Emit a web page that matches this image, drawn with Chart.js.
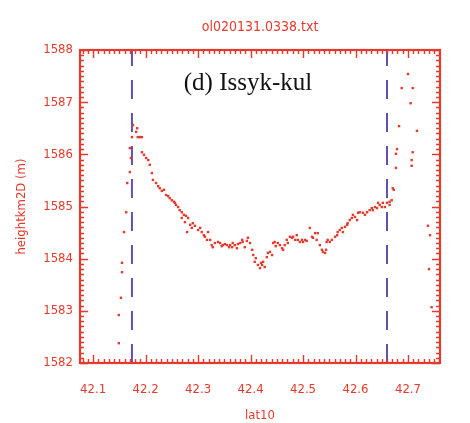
<!DOCTYPE html>
<html>
<head>
<meta charset="utf-8">
<script src="https://cdn.jsdelivr.net/npm/chart.js@4/dist/chart.umd.min.js"></script>
<style>
  html, body { margin: 0; padding: 0; background: #ffffff; }
  canvas { display: block; }
</style>
</head>
<body>
<canvas id="c" width="470" height="423"></canvas>
<script>
// Latitude (lat10) of each sounding and the retrieved surface height (m)
const latitudes = [
  42.149, 42.149, 42.153, 42.155, 42.155, 42.159, 42.163, 42.165, 42.170, 42.170,
  42.172, 42.174, 42.176, 42.182, 42.184, 42.185, 42.189, 42.193, 42.193, 42.197,
  42.201, 42.205, 42.208, 42.212, 42.214, 42.220, 42.224, 42.227, 42.231, 42.235,
  42.239, 42.243, 42.246, 42.250, 42.254, 42.256, 42.258, 42.262, 42.265, 42.269,
  42.269, 42.273, 42.275, 42.277, 42.279, 42.281, 42.285, 42.288, 42.290, 42.294,
  42.300, 42.304, 42.307, 42.311, 42.313, 42.317, 42.319, 42.323, 42.326, 42.328,
  42.332, 42.338, 42.342, 42.345, 42.347, 42.351, 42.355, 42.359, 42.361, 42.365,
  42.366, 42.370, 42.374, 42.376, 42.380, 42.384, 42.385, 42.389, 42.393, 42.395,
  42.399, 42.403, 42.405, 42.408, 42.410, 42.414, 42.418, 42.420, 42.422, 42.424,
  42.427, 42.431, 42.433, 42.437, 42.441, 42.443, 42.446, 42.448, 42.452, 42.456,
  42.460, 42.462, 42.465, 42.469, 42.471, 42.475, 42.479, 42.481, 42.485, 42.488,
  42.490, 42.494, 42.498, 42.500, 42.504, 42.507, 42.513, 42.517, 42.519, 42.523,
  42.526, 42.528, 42.532, 42.536, 42.538, 42.542, 42.544, 42.545, 42.547, 42.551,
  42.555, 42.561, 42.565, 42.566, 42.570, 42.574, 42.576, 42.580, 42.584, 42.585,
  42.589, 42.593, 42.595, 42.599, 42.603, 42.605, 42.608, 42.614, 42.618, 42.622,
  42.627, 42.631, 42.633, 42.637, 42.641, 42.643, 42.646, 42.650, 42.652, 42.656,
  42.660, 42.665, 42.665, 42.669, 42.671, 42.673, 42.677, 42.677, 42.679, 42.683,
  42.688, 42.700, 42.705, 42.709, 42.709, 42.707, 42.707, 42.717, 42.738, 42.742,
  42.740, 42.745
];
const heights = [
  1582.38, 1582.92, 1583.25, 1583.74, 1583.92, 1584.51, 1584.89, 1585.45, 1585.66, 1586.12,
  1585.93, 1586.33, 1586.56, 1586.43, 1586.50, 1586.33, 1586.33, 1586.33, 1586.04, 1585.99,
  1585.93, 1585.89, 1585.80, 1585.64, 1585.51, 1585.45, 1585.39, 1585.35, 1585.30, 1585.32,
  1585.22, 1585.20, 1585.16, 1585.12, 1585.09, 1585.07, 1585.03, 1584.99, 1584.93, 1584.89,
  1584.78, 1584.84, 1584.70, 1584.82, 1584.51, 1584.78, 1584.65, 1584.59, 1584.68, 1584.63,
  1584.55, 1584.59, 1584.51, 1584.45, 1584.42, 1584.36, 1584.51, 1584.36, 1584.26, 1584.22,
  1584.30, 1584.32, 1584.30, 1584.24, 1584.26, 1584.28, 1584.26, 1584.22, 1584.26, 1584.22,
  1584.30, 1584.26, 1584.20, 1584.28, 1584.30, 1584.36, 1584.32, 1584.22, 1584.34, 1584.40,
  1584.30, 1584.17, 1584.07, 1583.94, 1584.01, 1583.88, 1583.82, 1583.92, 1583.88, 1583.94,
  1583.84, 1584.03, 1584.11, 1584.13, 1584.07, 1584.30, 1584.32, 1584.24, 1584.30, 1584.26,
  1584.20, 1584.17, 1584.26, 1584.36, 1584.30, 1584.42, 1584.40, 1584.42, 1584.36, 1584.45,
  1584.36, 1584.32, 1584.36, 1584.32, 1584.36, 1584.34, 1584.59, 1584.42, 1584.40, 1584.49,
  1584.36, 1584.49, 1584.26, 1584.17, 1584.13, 1584.11, 1584.17, 1584.32, 1584.36, 1584.32,
  1584.36, 1584.42, 1584.45, 1584.51, 1584.55, 1584.59, 1584.51, 1584.61, 1584.65, 1584.68,
  1584.74, 1584.78, 1584.84, 1584.80, 1584.74, 1584.88, 1584.89, 1584.88, 1584.84, 1584.89,
  1584.93, 1584.97, 1584.93, 1584.99, 1584.97, 1585.07, 1585.03, 1584.99, 1585.07, 1584.99,
  1585.07, 1585.09, 1585.03, 1585.12, 1585.35, 1585.32, 1585.74, 1586.01, 1586.10, 1586.54,
  1587.27, 1587.54, 1586.98, 1587.27, 1586.04, 1585.89, 1585.78, 1586.45, 1584.63, 1584.45,
  1583.80, 1583.07
];

// Shoreline markers (dashed verticals)
const shoreLatitudes = [42.174, 42.660];

// Axis extents and labelled ticks
const latRange = [42.075, 42.761];
const heightRange = [1582, 1588];
const latTicks = [42.1, 42.2, 42.3, 42.4, 42.5, 42.6, 42.7];
const heightTicks = [1582, 1583, 1584, 1585, 1586, 1587, 1588];

const RED = '#e5392c';
const DASH_BLUE = '#6450b4';
const LABEL_FONT = '"DejaVu Sans Condensed", "Liberation Sans Narrow", "DejaVu Sans", sans-serif';

const points = latitudes.map((lat, i) => ({ x: lat, y: heights[i] }));

const shoreSets = shoreLatitudes.map(lat => ({
  type: 'line',
  data: [{ x: lat, y: heightRange[0] }, { x: lat, y: heightRange[1] }],
  borderColor: DASH_BLUE,
  borderWidth: 2,
  borderDash: [19, 14],
  pointRadius: 0,
  fill: false,
  order: 2
}));

// Frame with inward major/minor tick marks on all four sides, plus titles
const framePlugin = {
  id: 'frameTicks',
  afterDatasetsDraw(chart) {
    const { ctx, chartArea: a, scales: { x, y } } = chart;
    ctx.save();
    ctx.strokeStyle = RED;
    ctx.lineWidth = 1.4;
    ctx.beginPath();
    const kx0 = Math.ceil(latRange[0] * 100), kx1 = Math.floor(latRange[1] * 100);
    for (let k = kx0; k <= kx1; k++) {
      const px = Math.round(x.getPixelForValue(k / 100)) + 0.5;
      const len = (k % 10 === 0) ? 8 : 4;
      ctx.moveTo(px, a.bottom); ctx.lineTo(px, a.bottom - len);
      ctx.moveTo(px, a.top); ctx.lineTo(px, a.top + len);
    }
    for (let k = heightRange[0] * 10; k <= heightRange[1] * 10; k++) {
      const py = Math.round(y.getPixelForValue(k / 10)) + 0.5;
      const len = (k % 10 === 0) ? 8 : 4;
      ctx.moveTo(a.left, py); ctx.lineTo(a.left + len, py);
      ctx.moveTo(a.right, py); ctx.lineTo(a.right - len, py);
    }
    ctx.stroke();
    ctx.lineWidth = 2.2;
    ctx.strokeRect(a.left, a.top, a.right - a.left, a.bottom - a.top);

    // file name above the frame
    ctx.fillStyle = RED;
    ctx.font = '14px ' + LABEL_FONT;
    ctx.textAlign = 'center';
    ctx.textBaseline = 'middle';
    ctx.fillText('ol020131.0338.txt', (a.left + a.right) / 2, a.top - 23);

    // panel caption
    ctx.fillStyle = '#111111';
    ctx.font = '25px "Liberation Serif", "Times New Roman", serif';
    ctx.textBaseline = 'alphabetic';
    ctx.fillText('(d) Issyk-kul', a.left + 168, a.top + 40);
    ctx.restore();
  }
};

new Chart(document.getElementById('c'), {
  type: 'scatter',
  data: {
    datasets: [
      {
        type: 'scatter',
        data: points,
        backgroundColor: RED,
        borderWidth: 0,
        pointStyle: 'rect',
        pointRadius: 1.7,
        pointHoverRadius: 1.7,
        order: 1
      },
      ...shoreSets
    ]
  },
  options: {
    responsive: false,
    devicePixelRatio: 1,
    animation: false,
    events: [],
    layout: { padding: { top: 50, right: 30, left: 0, bottom: 0 } },
    plugins: {
      legend: { display: false },
      title: { display: false },
      tooltip: { enabled: false }
    },
    scales: {
      x: {
        type: 'linear',
        position: 'bottom',
        min: latRange[0],
        max: latRange[1],
        afterBuildTicks(scale) { scale.ticks = latTicks.map(v => ({ value: v })); },
        afterFit(scale) { scale.height = 60; },
        grid: { display: false, drawTicks: false },
        border: { display: false },
        ticks: {
          color: RED,
          font: { family: LABEL_FONT, size: 13 },
          padding: 19,
          maxRotation: 0,
          autoSkip: false,
          callback: v => Number(v).toFixed(1)
        },
        title: {
          display: true,
          text: 'lat10',
          color: RED,
          font: { family: LABEL_FONT, size: 13 },
          padding: { top: 0, bottom: 0 }
        }
      },
      y: {
        type: 'linear',
        position: 'left',
        min: heightRange[0],
        max: heightRange[1],
        afterBuildTicks(scale) { scale.ticks = heightTicks.map(v => ({ value: v })); },
        afterFit(scale) { scale.width = 80; },
        grid: { display: false, drawTicks: false },
        border: { display: false },
        ticks: {
          color: RED,
          font: { family: LABEL_FONT, size: 13 },
          padding: 7,
          autoSkip: false,
          callback: v => String(Math.round(v))
        },
        title: {
          display: true,
          text: 'heightkm2D (m)',
          color: RED,
          font: { family: LABEL_FONT, size: 13 },
          padding: { top: 14, bottom: 0 }
        }
      }
    }
  },
  plugins: [framePlugin]
});
</script>
</body>
</html>
